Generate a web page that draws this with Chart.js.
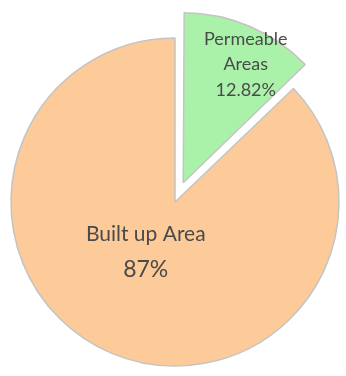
<!DOCTYPE html>
<html>
<head>
<meta charset="utf-8">
<script src="https://cdn.jsdelivr.net/npm/chart.js@4/dist/chart.umd.min.js"></script>
<style>
  html, body { margin: 0; padding: 0; background: #fff; }
  #wrap { width: 346px; height: 376px; }
</style>
</head>
<body>
<div id="wrap"><canvas id="areas"></canvas></div>
<script>
// land cover shares (percent)
const categories = ['Permeable Areas', 'Built up Area'];
const shares = [12.82, 87];
const shareText = ['12.82%', '87%'];
const sliceColors = ['#aaf2aa', '#fdcb9a'];
// chart.js moves an arc by roughly offset/4, so this pulls the green slice ~27px out
const pullOut = [84, 0];

// text lines inside each slice: radius fraction, nudge, font size per line
const labelSpec = [
  { frac: 0.78, dx: 10, dy: 5, lines: ['Permeable', 'Areas', shareText[0]], sizes: [18, 18, 18], gap: 25.5 },
  { frac: 0.33, dx: -8, dy: 0, lines: ['Built up Area', shareText[1]], sizes: [21, 23], gap: 36 }
];

const sliceLabels = {
  id: 'sliceLabels',
  afterDatasetsDraw(chart) {
    const ctx = chart.ctx;
    const arcs = chart.getDatasetMeta(0).data;
    arcs.forEach(function(arc, i) {
      const p = arc.getProps(['x', 'y', 'startAngle', 'endAngle', 'outerRadius', 'circumference'], true);
      const mid = (p.startAngle + p.endAngle) / 2;
      // same shift the arc element applies when it is offset
      const off = (arc.options.offset || 0) / 4;
      const shift = off * (2 - Math.sin(Math.min(Math.PI, p.circumference)));
      const spec = labelSpec[i];
      const r = p.outerRadius * spec.frac + shift;
      const cx = p.x + Math.cos(mid) * r + spec.dx;
      const cy = p.y + Math.sin(mid) * r + spec.dy;
      const top = cy - spec.gap * (spec.lines.length - 1) / 2;
      ctx.save();
      ctx.fillStyle = '#4a4a4a';
      ctx.textAlign = 'center';
      ctx.textBaseline = 'middle';
      spec.lines.forEach(function(line, k) {
        ctx.font = spec.sizes[k] + 'px Lato, "Open Sans", sans-serif';
        ctx.fillText(line, cx, top + k * spec.gap);
      });
      ctx.restore();
    });
  }
};

new Chart(document.getElementById('areas'), {
  type: 'pie',
  data: {
    labels: categories,
    datasets: [{
      data: shares,
      backgroundColor: sliceColors,
      borderColor: '#c4c4c4',
      borderWidth: 1.5,
      offset: pullOut,
      radius: 164
    }]
  },
  options: {
    responsive: true,
    maintainAspectRatio: false,
    animation: false,
    layout: { padding: { top: 28, bottom: 0, left: 4, right: 0 } },
    plugins: {
      legend: { display: false },
      tooltip: { enabled: false }
    }
  },
  plugins: [sliceLabels]
});
</script>
</body>
</html>
